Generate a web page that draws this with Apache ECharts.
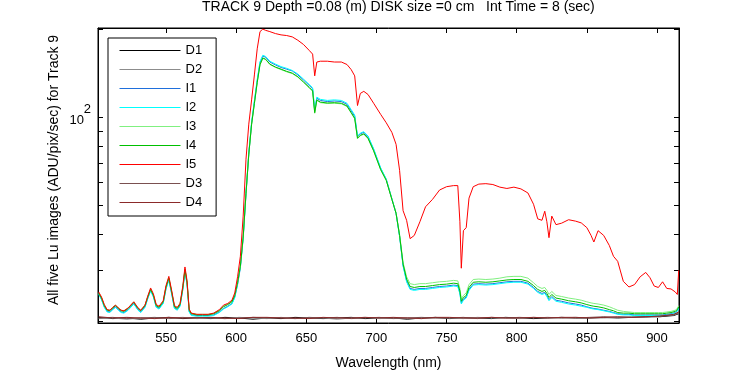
<!DOCTYPE html>
<html>
<head>
<meta charset="utf-8">
<script src="https://cdn.jsdelivr.net/npm/echarts@6/dist/echarts.min.js"></script>
<style>
  html, body { margin: 0; padding: 0; background: #fff; }
  #chart { width: 750px; height: 375px; }
</style>
</head>
<body>
<div id="chart"></div>
<script>
// wavelength grid (nm) shared by the five image series
var wavelength = [502, 504, 506, 508, 510, 512, 514, 516, 518, 520, 523, 527, 530, 532, 535, 537, 539, 541, 543, 545,
    548, 550, 552, 554, 556, 558, 560, 562, 563.5, 565, 566.5, 568, 572, 576, 580, 584, 588, 591, 594, 597,
    599, 601, 603, 605, 607, 609, 611, 613, 615, 617, 619, 621, 624, 628, 632, 636, 640, 644, 648, 652,
    654.5, 656, 657.5, 660, 665, 670, 675, 679, 682, 684.5, 686.5, 688.5, 691, 694, 698, 703, 707, 711, 714, 716.5,
    719, 721.5, 724, 727, 731, 735, 740, 745, 750, 755, 758, 759.5, 760.5, 762, 764, 766, 769, 773, 778, 783,
    788, 793, 798, 803, 808, 812, 815, 818, 820, 821.5, 823, 825, 828, 832, 837, 842, 846, 850, 853, 855,
    858, 862, 866, 869, 872, 876, 880, 884, 888, 892, 895, 898, 901, 904, 907, 910, 913, 914.5, 915.5];

var i5 = [25.3, 24.3, 22.9, 22.0, 21.9, 22.4, 22.8, 22.3, 21.9, 21.8, 22.3, 23.4, 22.3, 21.9, 22.8, 24.5, 26.1, 24.9, 22.9, 22.6,
    23.6, 26.6, 28.6, 25.6, 22.7, 22.4, 23.1, 26.6, 30.8, 27.6, 22.1, 21.4, 21.2, 21.2, 21.2, 21.4, 22.0, 22.8, 23.1, 23.7,
    25.1, 28.5, 33.5, 46.0, 72.0, 95.0, 115.0, 140.0, 172.0, 197.0, 201.0, 199.0, 197.0, 194.0, 192.0, 191.0, 189.0, 184.0, 178.0, 170.0,
    165.0, 139.0, 155.0, 156.0, 156.0, 155.0, 155.0, 152.0, 146.0, 139.0, 110.0, 121.0, 123.0, 120.0, 112.0, 102.6, 96.0, 89.0, 81.0, 66.0,
    48.0, 44.5, 38.5, 39.5, 44.0, 49.5, 52.5, 56.5, 58.0, 58.5, 58.5, 44.0, 30.5, 41.0, 42.0, 53.0, 58.0, 59.2, 59.4, 59.0,
    57.8, 57.2, 57.8, 57.0, 55.2, 50.5, 45.0, 44.5, 47.8, 44.0, 38.8, 46.0, 43.0, 43.5, 44.7, 44.2, 43.6, 42.0, 39.5, 37.5,
    41.0, 39.5, 36.5, 33.5, 32.2, 27.5, 26.3, 26.8, 28.5, 29.5, 28.3, 26.5, 26.2, 27.4, 26.0, 25.9, 25.3, 24.8, 30.0];

var i4 = [25.0, 24.1, 22.7, 21.9, 21.8, 22.3, 22.7, 22.2, 21.8, 21.7, 22.2, 23.3, 22.2, 21.8, 22.7, 24.3, 25.8, 24.6, 22.7, 22.4,
    23.4, 26.3, 28.2, 25.3, 22.5, 22.2, 22.9, 26.2, 30.2, 27.2, 21.9, 21.3, 21.1, 21.1, 21.1, 21.3, 21.8, 22.5, 22.9, 23.4,
    24.6, 27.2, 31.0, 39.0, 55.0, 75.0, 95.0, 112.0, 132.0, 152.0, 160.0, 158.5, 152.5, 149.0, 146.5, 144.0, 142.0, 138.0, 132.5, 127.0,
    123.5, 104.0, 115.0, 113.0, 112.2, 112.5, 112.0, 109.6, 104.0, 99.5, 85.0, 87.0, 88.0, 85.0, 77.0, 66.4, 61.0, 52.5, 47.0, 39.5,
    31.5, 28.0, 26.4, 26.2, 26.4, 26.4, 26.6, 26.8, 26.9, 27.1, 27.0, 25.5, 23.5, 24.2, 24.6, 26.2, 27.3, 27.4, 27.3, 27.4,
    27.6, 27.8, 27.9, 27.9, 27.5, 26.6, 25.8, 25.4, 25.6, 25.0, 24.2, 24.8, 24.1, 23.9, 23.6, 23.4, 23.2, 22.9, 22.7, 22.6,
    22.5, 22.3, 22.0, 21.8, 21.5, 21.4, 21.4, 21.3, 21.3, 21.3, 21.3, 21.3, 21.3, 21.3, 21.4, 21.5, 21.7, 22.0, 22.5];

var i1 = [24.9, 23.9, 22.5, 21.7, 21.6, 22.1, 22.5, 22.0, 21.6, 21.5, 22.0, 23.1, 22.0, 21.6, 22.5, 24.1, 25.6, 24.4, 22.5, 22.2,
    23.2, 26.0, 27.9, 25.0, 22.3, 22.0, 22.7, 25.9, 29.8, 26.9, 21.7, 21.1, 21.0, 21.0, 21.0, 21.1, 21.6, 22.2, 22.6, 23.1,
    24.3, 26.8, 30.6, 38.6, 54.6, 75.0, 95.5, 113.0, 133.5, 154.0, 162.5, 161.0, 155.0, 151.5, 148.5, 146.5, 144.5, 140.0, 134.5, 129.0,
    125.5, 105.5, 116.5, 114.5, 113.5, 114.0, 113.5, 111.0, 105.5, 101.0, 86.0, 88.0, 89.0, 86.0, 77.8, 67.0, 61.4, 52.7, 47.0, 39.3,
    31.2, 27.6, 26.0, 25.8, 26.0, 26.0, 26.2, 26.4, 26.5, 26.7, 26.6, 25.1, 23.2, 23.9, 24.3, 25.8, 26.9, 27.0, 26.9, 27.0,
    27.2, 27.4, 27.5, 27.5, 27.1, 26.2, 25.4, 25.0, 25.2, 24.6, 23.8, 24.4, 23.7, 23.5, 23.2, 23.0, 22.8, 22.5, 22.3, 22.2,
    22.1, 21.9, 21.7, 21.5, 21.3, 21.2, 21.2, 21.1, 21.1, 21.1, 21.1, 21.1, 21.1, 21.1, 21.2, 21.3, 21.5, 21.8, 22.3];

var i2 = [24.8, 23.8, 22.4, 21.6, 21.5, 22.0, 22.4, 21.9, 21.5, 21.4, 21.9, 23.0, 21.9, 21.5, 22.4, 24.0, 25.5, 24.3, 22.4, 22.1,
    23.1, 25.9, 27.8, 24.9, 22.2, 21.9, 22.6, 25.8, 29.7, 26.8, 21.6, 21.0, 20.9, 20.9, 20.9, 21.0, 21.5, 22.1, 22.5, 23.0,
    24.2, 26.9, 30.8, 39.0, 55.5, 76.0, 96.5, 114.5, 135.0, 155.5, 163.5, 162.0, 156.0, 152.5, 149.5, 147.5, 145.0, 141.0, 135.5, 130.0,
    126.5, 106.0, 117.5, 115.5, 114.5, 115.0, 114.5, 112.0, 106.5, 102.0, 86.5, 88.5, 89.5, 86.5, 78.2, 67.3, 61.6, 52.8, 47.0, 39.2,
    31.0, 27.4, 25.8, 25.6, 25.8, 25.8, 26.0, 26.2, 26.3, 26.5, 26.4, 24.9, 23.0, 23.7, 24.1, 25.6, 26.7, 26.8, 26.7, 26.8,
    27.0, 27.2, 27.3, 27.3, 26.9, 26.0, 25.2, 24.8, 25.0, 24.4, 23.6, 24.2, 23.5, 23.3, 23.0, 22.8, 22.6, 22.4, 22.2, 22.1,
    22.0, 21.8, 21.6, 21.4, 21.2, 21.1, 21.1, 21.0, 21.0, 21.0, 21.0, 21.0, 21.0, 21.0, 21.1, 21.2, 21.4, 21.7, 22.2];

var i3 = [25.1, 24.2, 22.8, 22.0, 21.9, 22.4, 22.8, 22.3, 21.9, 21.8, 22.3, 23.4, 22.3, 21.9, 22.8, 24.4, 25.9, 24.7, 22.8, 22.5,
    23.5, 26.4, 28.3, 25.4, 22.6, 22.3, 23.0, 26.3, 30.3, 27.3, 22.0, 21.4, 21.2, 21.2, 21.2, 21.4, 21.9, 22.6, 23.0, 23.5,
    24.7, 27.3, 31.1, 39.0, 55.0, 75.0, 94.5, 111.5, 131.5, 151.5, 159.5, 158.0, 152.0, 148.5, 146.0, 143.5, 141.5, 137.5, 132.0, 126.5,
    123.0, 103.5, 114.5, 112.5, 111.8, 112.0, 111.5, 109.2, 103.6, 99.0, 84.7, 86.7, 87.7, 84.7, 76.8, 66.3, 61.0, 52.6, 47.2, 39.8,
    31.9, 28.5, 27.0, 26.8, 27.0, 27.0, 27.2, 27.4, 27.5, 27.7, 27.6, 26.0, 23.9, 24.6, 25.1, 26.8, 27.9, 28.0, 27.9, 28.0,
    28.2, 28.5, 28.6, 28.6, 28.2, 27.2, 26.4, 26.0, 26.2, 25.6, 24.8, 25.4, 24.6, 24.4, 24.1, 23.9, 23.7, 23.4, 23.2, 23.1,
    23.0, 22.8, 22.5, 22.2, 21.9, 21.7, 21.6, 21.5, 21.5, 21.5, 21.5, 21.5, 21.5, 21.5, 21.6, 21.7, 21.9, 22.2, 22.7];

// dark frames, coarser grid
var dWavelength = [502, 512, 522, 532, 542, 552, 562, 572, 582, 592, 602, 612, 622, 632, 642, 652, 662, 672, 682, 692,
    702, 712, 722, 732, 742, 752, 762, 772, 782, 792, 802, 812, 822, 832, 842, 852, 862, 872, 882, 892, 902, 912, 915.5];
var d1 = [20.7, 20.5, 20.6, 20.4, 20.6, 20.7, 20.5, 20.6, 20.5, 20.7, 20.6, 20.4, 20.6, 20.5, 20.7, 20.6, 20.5, 20.6, 20.7, 20.5,
    20.6, 20.6, 20.4, 20.6, 20.7, 20.5, 20.6, 20.6, 20.5, 20.7, 20.6, 20.5, 20.6, 20.7, 20.6, 20.6, 20.7, 20.6, 20.7, 20.8, 20.8, 21.0, 21.3];
var d2 = [20.5, 20.6, 20.4, 20.6, 20.5, 20.6, 20.7, 20.5, 20.6, 20.5, 20.7, 20.6, 20.5, 20.7, 20.5, 20.6, 20.6, 20.4, 20.6, 20.7,
    20.5, 20.6, 20.6, 20.5, 20.6, 20.6, 20.5, 20.7, 20.6, 20.6, 20.5, 20.7, 20.6, 20.6, 20.7, 20.6, 20.6, 20.7, 20.8, 20.7, 20.9, 21.1, 21.4];
var d3 = [20.6, 20.7, 20.5, 20.6, 20.7, 20.5, 20.6, 20.7, 20.6, 20.5, 20.6, 20.7, 20.6, 20.6, 20.5, 20.7, 20.6, 20.7, 20.5, 20.6,
    20.7, 20.5, 20.6, 20.7, 20.6, 20.6, 20.7, 20.5, 20.7, 20.6, 20.7, 20.6, 20.7, 20.6, 20.6, 20.7, 20.8, 20.7, 20.7, 20.8, 20.9, 21.1, 21.5];
var d4 = [20.8, 20.6, 20.7, 20.6, 20.5, 20.7, 20.6, 20.6, 20.7, 20.6, 20.5, 20.7, 20.7, 20.6, 20.6, 20.5, 20.7, 20.6, 20.6, 20.7,
    20.6, 20.7, 20.6, 20.5, 20.7, 20.7, 20.6, 20.6, 20.7, 20.6, 20.6, 20.7, 20.6, 20.7, 20.7, 20.6, 20.7, 20.8, 20.7, 20.8, 20.9, 21.2, 21.6];

var xTicks = [550, 600, 650, 700, 750, 800, 850, 900];
var yTicks = [20, 30, 40, 50, 60, 70, 80, 90, 100, 200];
var yLabels = [100];

var font = "'Liberation Sans', Arial, sans-serif";

function zip(xs, ys) {
    var out = [];
    for (var i = 0; i < xs.length; i++) {
        out.push([xs[i], ys[i]]);
    }
    return out;
}

function line(name, xs, ys, color) {
    return {
        name: name,
        type: 'line',
        data: zip(xs, ys),
        color: color,
        symbol: 'none',
        lineStyle: { width: 1, color: color },
        itemStyle: { color: color },
        z: 3
    };
}

var chart = echarts.init(document.getElementById('chart'));

var option = {
    animation: false,
    backgroundColor: '#fff',
    title: {
        text: 'TRACK 9 Depth =0.08 (m) DISK size =0 cm   Int Time = 8 (sec)',
        left: 202,
        top: 0,
        padding: 0,
        textStyle: { fontFamily: font, fontSize: 14, fontWeight: 'normal', color: '#000' }
    },
    legend: {
        orient: 'vertical',
        left: 108,
        top: 38,
        padding: [6, 14, 7, 11],
        itemWidth: 61,
        itemHeight: 13,
        itemGap: 6,
        itemStyle: { opacity: 0 },
        lineStyle: { width: 1 },
        backgroundColor: '#fff',
        borderColor: '#000',
        borderWidth: 1,
        borderRadius: 0,
        textStyle: { fontFamily: font, fontSize: 13, color: '#000', lineHeight: 13 },
        data: ['D1', 'D2', 'I1', 'I2', 'I3', 'I4', 'I5', 'D3', 'D4']
    },
    grid: {
        left: 98, right: 71, top: 28, bottom: 44,
        show: true, borderColor: '#000', borderWidth: 1, backgroundColor: '#fff'
    },
    xAxis: [{
        type: 'value',
        min: 501.5,
        max: 915.7,
        name: 'Wavelength (nm)',
        nameLocation: 'middle',
        nameGap: 33,
        nameTextStyle: { fontFamily: font, fontSize: 14, color: '#000' },
        splitLine: { show: false },
        axisLine: { lineStyle: { color: '#000' } },
        axisTick: { inside: true, length: 5, customValues: xTicks, lineStyle: { color: '#000' } },
        axisLabel: { customValues: xTicks, margin: 9, fontFamily: font, fontSize: 13, color: '#000' }
    }, {
        type: 'value',
        position: 'top',
        min: 501.5,
        max: 915.7,
        splitLine: { show: false },
        axisLine: { lineStyle: { color: '#000' } },
        axisTick: { inside: true, length: 5, customValues: xTicks, lineStyle: { color: '#000' } },
        axisLabel: { show: false }
    }],
    yAxis: [{
        type: 'log',
        logBase: 10,
        min: 19.8,
        max: 202.7,
        name: 'All five Lu images (ADU/pix/sec) for Track 9',
        nameLocation: 'middle',
        nameGap: 37,
        nameMoveOverlap: false,
        nameTextStyle: { fontFamily: font, fontSize: 14, color: '#000', padding: [0, 0, 0, 11] },
        splitLine: { show: false },
        axisLine: { lineStyle: { color: '#000' } },
        axisTick: { inside: true, length: 5, customValues: yTicks, lineStyle: { color: '#000' } },
        axisLabel: {
            customValues: yLabels,
            margin: 7,
            padding: [0, 0, 4, 0],
            formatter: function (v) {
                return Math.round(v) === 100 ? '{b|2}\n{a|10}' : '';
            },
            rich: {
                a: { fontFamily: font, fontSize: 13, lineHeight: 13, color: '#000', padding: [0, 7, 0, 0] },
                b: { fontFamily: font, fontSize: 13, lineHeight: 10, color: '#000' }
            }
        }
    }, {
        type: 'log',
        logBase: 10,
        min: 19.8,
        max: 202.7,
        position: 'right',
        splitLine: { show: false },
        axisLine: { lineStyle: { color: '#000' } },
        axisTick: { inside: true, length: 5, customValues: yTicks, lineStyle: { color: '#000' } },
        axisLabel: { show: false }
    }],
    series: [
        line('D1', dWavelength, d1, '#000000'),
        line('D2', dWavelength, d2, '#8c8c8c'),
        line('I1', wavelength, i1, '#1f6fdb'),
        line('I2', wavelength, i2, '#00ffff'),
        line('I3', wavelength, i3, '#80f080'),
        line('I4', wavelength, i4, '#00c000'),
        line('I5', wavelength, i5, '#ff0000'),
        line('D3', dWavelength, d3, '#7a5050'),
        line('D4', dWavelength, d4, '#8b2a2a')
    ]
};

chart.setOption(option);
</script>
</body>
</html>
